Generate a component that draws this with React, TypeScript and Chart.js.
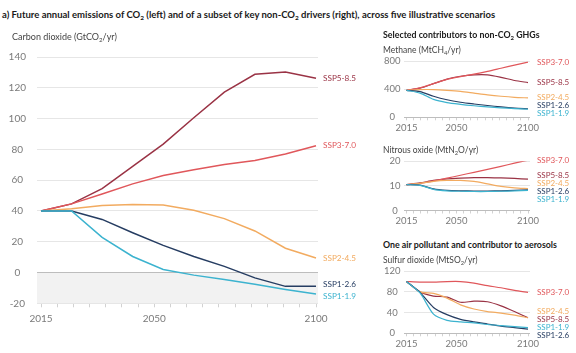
import React, { useEffect, useRef } from 'react';
import { Chart, registerables } from 'chart.js';

Chart.register(...registerables);
Chart.defaults.font.family = 'Lato';

// ---------- data ----------
const YEARS = [2015, 2020, 2030, 2040, 2050, 2060, 2070, 2080, 2090, 2100];
const YEAR_LABELS = [2015, 2050, 2100];
const SCENARIOS = ['SSP1-1.9', 'SSP1-2.6', 'SSP2-4.5', 'SSP3-7.0', 'SSP5-8.5'];
const COLORS = ['#3cb3cf', '#263d62', '#f2ab60', '#e0575b', '#9a3345'];

// Carbon dioxide (GtCO2/yr)
const CO2_SSP119 = [40, 40, 22.8, 10.4, 2, -1.7, -4.6, -7.7, -11, -13.9];
const CO2_SSP126 = [40, 40, 34.5, 25.8, 17.6, 10.4, 4, -3.5, -9, -9];
const CO2_SSP245 = [40, 41.5, 43.6, 44.2, 43.8, 40.4, 35, 27, 15.8, 9.4];
const CO2_SSP370 = [40, 44.6, 51, 57.6, 63, 66.8, 70.2, 72.8, 77, 82.4];
const CO2_SSP585 = [40, 44.6, 54.5, 69, 83.4, 100.5, 117.2, 128.8, 130.2, 126.2];

// Methane (MtCH4/yr)
const CH4_SSP119 = [385, 345, 255, 210, 185, 165, 148, 135, 125, 115];
const CH4_SSP126 = [385, 365, 300, 250, 215, 190, 168, 148, 132, 122];
const CH4_SSP245 = [385, 395, 395, 385, 370, 345, 320, 300, 285, 277];
const CH4_SSP370 = [385, 420, 480, 540, 580, 615, 655, 700, 745, 786];
const CH4_SSP585 = [385, 415, 480, 545, 585, 605, 605, 570, 525, 495];

// Nitrous oxide (MtN2O/yr)
const N2O_SSP119 = [10.5, 10.2, 8.6, 8.0, 7.8, 7.7, 7.7, 7.8, 8.0, 8.2];
const N2O_SSP126 = [10.5, 10.3, 8.8, 8.2, 8.0, 7.9, 7.9, 8.0, 8.2, 8.4];
const N2O_SSP245 = [10.5, 11.0, 11.8, 12.2, 12.2, 11.8, 10.8, 9.8, 9.2, 8.9];
const N2O_SSP370 = [10.5, 11.0, 12.0, 13.1, 14.3, 15.5, 16.7, 17.9, 19.2, 20.4];
const N2O_SSP585 = [10.5, 11.2, 12.2, 12.8, 13.1, 13.3, 13.3, 13.2, 13.0, 12.7];

// Sulfur dioxide (MtSO2/yr)
const SO2_SSP119 = [100, 78, 37, 25, 22, 20, 17, 15, 13, 11];
const SO2_SSP126 = [100, 79, 50, 36, 27, 22, 18, 14, 11, 8];
const SO2_SSP245 = [100, 80, 77, 68, 55, 47, 42, 39, 35, 30];
const SO2_SSP370 = [100, 99, 99, 100, 100, 97, 92, 88, 83, 79];
const SO2_SSP585 = [100, 80, 72, 70, 60, 62, 61, 53, 42, 30];

const CO2 = [CO2_SSP119, CO2_SSP126, CO2_SSP245, CO2_SSP370, CO2_SSP585];
const CH4 = [CH4_SSP119, CH4_SSP126, CH4_SSP245, CH4_SSP370, CH4_SSP585];
const N2O = [N2O_SSP119, N2O_SSP126, N2O_SSP245, N2O_SSP370, N2O_SSP585];
const SO2 = [SO2_SSP119, SO2_SSP126, SO2_SSP245, SO2_SSP370, SO2_SSP585];

// ---------- plugins ----------
const endLabelPlugin = {
  id: 'endLabels',
  afterDatasetsDraw(chart: any, _args: any, opts: any) {
    const ctx = chart.ctx;
    const items = chart.data.datasets.map((ds: any, i: number) => {
      const meta = chart.getDatasetMeta(i);
      const pt = meta.data[meta.data.length - 1];
      return { text: ds.label, color: ds.borderColor, y: pt.y };
    });
    items.sort((a: any, b: any) => a.y - b.y);
    const gap = opts.gap || 10;
    for (let it = 0; it < 300; it++) {
      let moved = false;
      for (let k = 0; k < items.length - 1; k++) {
        const d = items[k + 1].y - items[k].y;
        if (d < gap - 0.01) {
          const s = (gap - d) / 2;
          items[k].y -= s;
          items[k + 1].y += s;
          moved = true;
        }
      }
      if (!moved) break;
    }
    ctx.save();
    ctx.font = `${opts.size || 8}px Lato`;
    ctx.textBaseline = 'middle';
    ctx.textAlign = 'left';
    items.forEach((it: any) => {
      ctx.fillStyle = it.color;
      ctx.fillText(it.text, chart.chartArea.right + (opts.offset || 5), it.y);
    });
    ctx.restore();
  },
};

const negBandPlugin = {
  id: 'negBand',
  beforeDraw(chart: any, _args: any, opts: any) {
    if (!opts || !opts.show) return;
    const { ctx, chartArea, scales } = chart;
    const y = scales.y;
    const top = y.getPixelForValue(0);
    const bottom = y.getPixelForValue(y.min);
    ctx.save();
    ctx.fillStyle = '#f2f2f2';
    ctx.fillRect(chartArea.left, top, chartArea.right - chartArea.left, bottom - top);
    ctx.restore();
  },
};

type Box = { left: number; top: number; width: number; height: number };
type Area = { left: number; right: number; top: number; bottom: number };

type PanelProps = {
  box: Box;
  area: Area;
  dataLeft: number;
  dataRight: number;
  values: number[][];
  yMin: number;
  yMax: number;
  yStep: number;
  tickFont: number;
  yPad: number;
  xPad: number;
  tickLen: number;
  lineWidth: number;
  tension: number;
  labelSize: number;
  labelGap: number;
  labelOffset: number;
  band?: boolean;
};

function Panel(p: PanelProps) {
  const ref = useRef<HTMLCanvasElement>(null);
  useEffect(() => {
    const n = YEARS.length;
    const aL = p.area.left - p.box.left;
    const aR = p.area.right - p.box.left;
    const aT = p.area.top - p.box.top;
    const aB = p.area.bottom - p.box.top;
    const pxIdx = (p.dataRight - p.dataLeft) / (n - 1);
    const idxMin = -(p.dataLeft - p.area.left) / pxIdx;
    const idxMax = n - 1 + (p.area.right - p.dataRight) / pxIdx;
    const y0 = YEARS[0];
    const y1 = YEARS[n - 1];
    const pxYr = (p.dataRight - p.dataLeft) / (y1 - y0);
    const yrMin = y0 - (p.dataLeft - p.area.left) / pxYr;
    const yrMax = y1 + (p.area.right - p.dataRight) / pxYr;

    const chart = new Chart(ref.current as HTMLCanvasElement, {
      type: 'line',
      data: {
        datasets: p.values.map((vals, i) => ({
          label: SCENARIOS[i],
          data: vals.map((v, j) => ({ x: j, y: v })),
          borderColor: COLORS[i],
          backgroundColor: COLORS[i],
          borderWidth: p.lineWidth,
          pointRadius: 0,
          tension: p.tension,
          fill: false,
          xAxisID: 'xi',
          yAxisID: 'y',
        })),
      },
      options: {
        responsive: false,
        animation: false,
        devicePixelRatio: 1,
        layout: { padding: { left: 0, top: aT, right: p.box.width - aR, bottom: 0 } },
        plugins: {
          legend: { display: false },
          tooltip: { enabled: false },
          endLabels: { size: p.labelSize, gap: p.labelGap, offset: p.labelOffset },
          negBand: { show: !!p.band },
        } as any,
        scales: {
          xi: { type: 'linear', display: false, min: idxMin, max: idxMax },
          x: {
            type: 'linear',
            position: 'bottom',
            min: yrMin,
            max: yrMax,
            ticks: {
              stepSize: 5,
              includeBounds: false,
              autoSkip: false,
              maxRotation: 0,
              padding: p.xPad,
              color: '#7a7a7a',
              font: { size: p.tickFont },
              callback: (v: any) => (YEAR_LABELS.includes(Number(v)) ? String(v) : ''),
            },
            grid: { drawOnChartArea: false, drawTicks: true, tickLength: p.tickLen, color: '#d2d2d2' },
            border: { display: false },
            afterFit: (s: any) => {
              s.height = p.box.height - aB;
            },
          },
          y: {
            type: 'linear',
            min: p.yMin,
            max: p.yMax,
            ticks: {
              stepSize: p.yStep,
              padding: p.yPad,
              crossAlign: 'center',
              color: '#7a7a7a',
              font: { size: p.tickFont },
            },
            grid: {
              drawTicks: false,
              color: (c: any) => (c.tick && c.tick.value === 0 ? '#bdbdbd' : '#e6e6e6'),
              lineWidth: 1,
            },
            border: { display: false },
            afterFit: (s: any) => {
              s.width = aL;
            },
          },
        } as any,
      },
      plugins: [endLabelPlugin, negBandPlugin],
    } as any);
    return () => chart.destroy();
  }, []);
  return (
    <canvas
      ref={ref}
      width={p.box.width}
      height={p.box.height}
      style={{ position: 'absolute', left: p.box.left, top: p.box.top, width: p.box.width, height: p.box.height }}
    />
  );
}

const Sub = ({ c }: { c: string }) => (
  <sub style={{ fontSize: '0.68em', verticalAlign: '-0.3em', lineHeight: 0 }}>{c}</sub>
);

function Txt(props: { left: number; cy: number; size: number; bold?: boolean; color: string; children: any }) {
  const lh = Math.round(props.size * 1.4);
  return (
    <div
      style={{
        position: 'absolute',
        left: props.left,
        top: props.cy - lh / 2,
        lineHeight: lh + 'px',
        fontSize: props.size,
        fontWeight: props.bold ? 700 : 400,
        color: props.color,
        whiteSpace: 'nowrap',
        zIndex: 2,
      }}
    >
      {props.children}
    </div>
  );
}

const RIGHT_COMMON = {
  dataLeft: 406.5,
  dataRight: 528,
  tickFont: 9.5,
  yPad: 3.5,
  xPad: 2,
  tickLen: 3,
  lineWidth: 1.2,
  tension: 0.25,
  labelSize: 8,
  labelGap: 8,
  labelOffset: 7,
};

export default function App() {
  return (
    <div
      style={{
        position: 'fixed',
        left: 0,
        top: 0,
        width: 576,
        height: 353,
        background: '#ffffff',
        overflow: 'hidden',
        fontFamily: 'Lato, sans-serif',
      }}
    >
      <Txt left={2} cy={14} size={9.5} bold color="#1a1a1a">
        a) Future annual emissions of CO<Sub c="2" /> (left) and of a subset of key non-CO<Sub c="2" /> drivers (right), across five illustrative scenarios
      </Txt>
      <Txt left={12} cy={36} size={9} color="#444">
        Carbon dioxide (GtCO<Sub c="2" />/yr)
      </Txt>
      <Txt left={383} cy={35} size={8.8} bold color="#1a1a1a">
        Selected contributors to non-CO<Sub c="2" /> GHGs
      </Txt>
      <Txt left={383} cy={49.5} size={8.5} color="#444">
        Methane (MtCH<Sub c="4" />/yr)
      </Txt>
      <Txt left={383} cy={150} size={8.5} color="#444">
        Nitrous oxide (MtN<Sub c="2" />O/yr)
      </Txt>
      <Txt left={383} cy={245} size={8.8} bold color="#1a1a1a">
        One air pollutant and contributor to aerosols
      </Txt>
      <Txt left={383} cy={260} size={8.5} color="#444">
        Sulfur dioxide (MtSO<Sub c="2" />/yr)
      </Txt>

      <Panel
        box={{ left: 0, top: 40, width: 380, height: 290 }}
        area={{ left: 37, right: 318, top: 55.4, bottom: 303.3 }}
        dataLeft={41}
        dataRight={316}
        values={CO2}
        yMin={-20}
        yMax={140}
        yStep={20}
        tickFont={10}
        yPad={11}
        xPad={5}
        tickLen={4}
        lineWidth={1.5}
        tension={0}
        labelSize={8.2}
        labelGap={12}
        labelOffset={5}
        band
      />
      <Panel
        {...RIGHT_COMMON}
        box={{ left: 380, top: 52, width: 196, height: 82 }}
        area={{ left: 404, right: 530, top: 60.7, bottom: 117.3 }}
        values={CH4}
        yMin={0}
        yMax={800}
        yStep={200}
      />
      <Panel
        {...RIGHT_COMMON}
        box={{ left: 380, top: 152, width: 196, height: 78 }}
        area={{ left: 404, right: 530, top: 160, bottom: 210.5 }}
        values={N2O}
        yMin={0}
        yMax={20}
        yStep={10}
      />
      <Panel
        {...RIGHT_COMMON}
        box={{ left: 380, top: 262, width: 196, height: 91 }}
        area={{ left: 404, right: 530, top: 270.7, bottom: 333.3 }}
        values={SO2}
        yMin={0}
        yMax={120}
        yStep={40}
      />
    </div>
  );
}
